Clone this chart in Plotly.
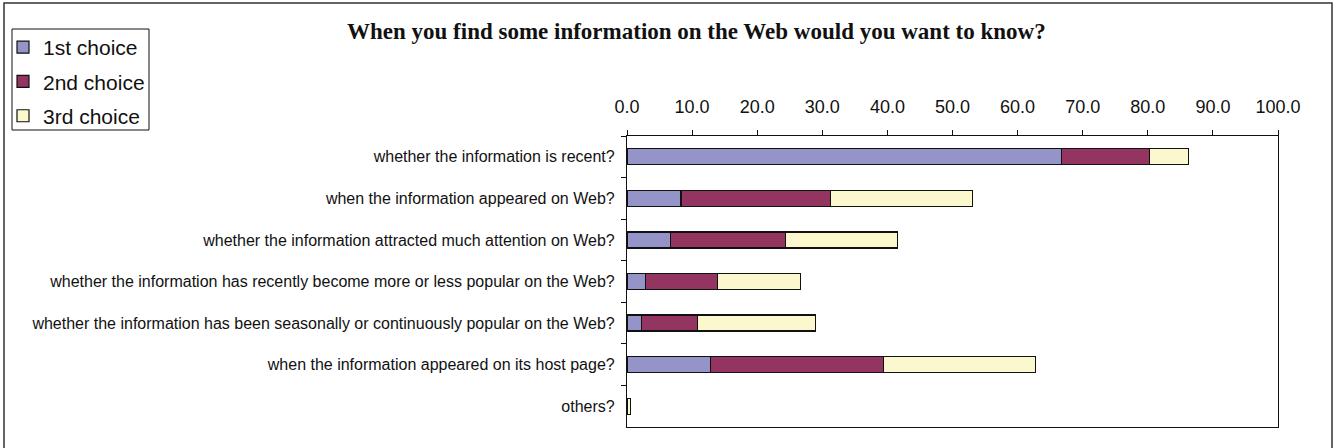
import plotly.graph_objects as go

# Survey questions (top to bottom) and share of respondents per choice rank (%)
questions = [
    "whether the information is recent?",
    "when the information appeared on Web?",
    "whether the information attracted much attention on Web?",
    "whether the information has recently become more or less popular on the Web?",
    "whether the information has been seasonally or continuously popular on the Web?",
    "when the information appeared on its host page?",
    "others?",
]
first_choice = [66.7, 8.3, 6.7, 2.9, 2.2, 12.8, 0.0]
second_choice = [13.5, 22.9, 17.7, 11.0, 8.6, 26.6, 0.0]
third_choice = [6.1, 21.9, 17.2, 12.8, 18.2, 23.4, 0.5]

series_names = ["1st choice", "2nd choice", "3rd choice"]
series_colors = ["#9494C8", "#943461", "#FBF8CE"]

W, H = 1334, 448
ML, MR, MT, MB = 627, 56, 136, 21
PW, PH = W - ML - MR, H - MT - MB


def px_x(px):
    return (px - ML) / PW


def px_y(py):
    return (H - MB - py) / PH


fig = go.Figure()
for name, vals, col in zip(series_names, [first_choice, second_choice, third_choice], series_colors):
    fig.add_trace(go.Bar(
        y=questions, x=vals, name=name, orientation="h",
        legendgroup=name,
        marker=dict(color=col, line=dict(color="#111111", width=1.2)),
    ))

fig.update_layout(
    width=W, height=H,
    margin=dict(l=ML, r=MR, t=MT, b=MB, autoexpand=False),
    barmode="stack",
    bargap=0.615,
    paper_bgcolor="white",
    plot_bgcolor="white",
    font=dict(family="Liberation Sans, Arial", color="#111111"),
    showlegend=True,
    legend=dict(
        x=px_x(3), y=px_y(27), xanchor="left", yanchor="top",
        traceorder="grouped",
        borderwidth=0,
        font=dict(size=21, family="Liberation Sans, Arial", color="#111111"),
        itemwidth=30,
        tracegroupgap=4,
        bgcolor="rgba(0,0,0,0)",
    ),
    xaxis=dict(
        side="top", range=[0, 100], dtick=10, tickformat=".1f",
        ticks="outside", ticklen=5, tickcolor="#111111",
        showline=True, linecolor="#111111", linewidth=1.2, mirror=True,
        showgrid=False, zeroline=False,
        tickfont=dict(size=18, family="Liberation Sans, Arial", color="#111111"),
        ticklabelstandoff=10,
        fixedrange=True,
    ),
    yaxis=dict(
        autorange="reversed", type="category",
        tickson="boundaries", ticks="outside", ticklen=5, tickcolor="#111111",
        showline=True, linecolor="#111111", linewidth=1.2, mirror=True,
        showgrid=False,
        tickfont=dict(size=16, family="Liberation Sans, Arial", color="#111111"),
        ticklabelstandoff=8,
        fixedrange=True,
    ),
    annotations=[dict(
        text="<b>When you find some information on the Web would you want to know?</b>",
        xref="paper", yref="paper", x=px_x(696), y=px_y(32),
        xanchor="center", yanchor="middle", showarrow=False,
        font=dict(size=23, family="Liberation Serif, Times New Roman", color="#111111"),
    )],
    shapes=[
        # outer chart frame
        dict(
            type="rect", xref="paper", yref="paper",
            x0=px_x(4), x1=px_x(1332), y0=px_y(460), y1=px_y(3),
            line=dict(color="#333333", width=1.5), fillcolor="rgba(0,0,0,0)",
            layer="below",
        ),
        # legend box
        dict(
            type="rect", xref="paper", yref="paper",
            x0=px_x(12), x1=px_x(149), y0=px_y(130), y1=px_y(29),
            line=dict(color="#111111", width=1), fillcolor="rgba(0,0,0,0)",
            layer="below",
        ),
    ],
)

fig.write_html("out.html")
